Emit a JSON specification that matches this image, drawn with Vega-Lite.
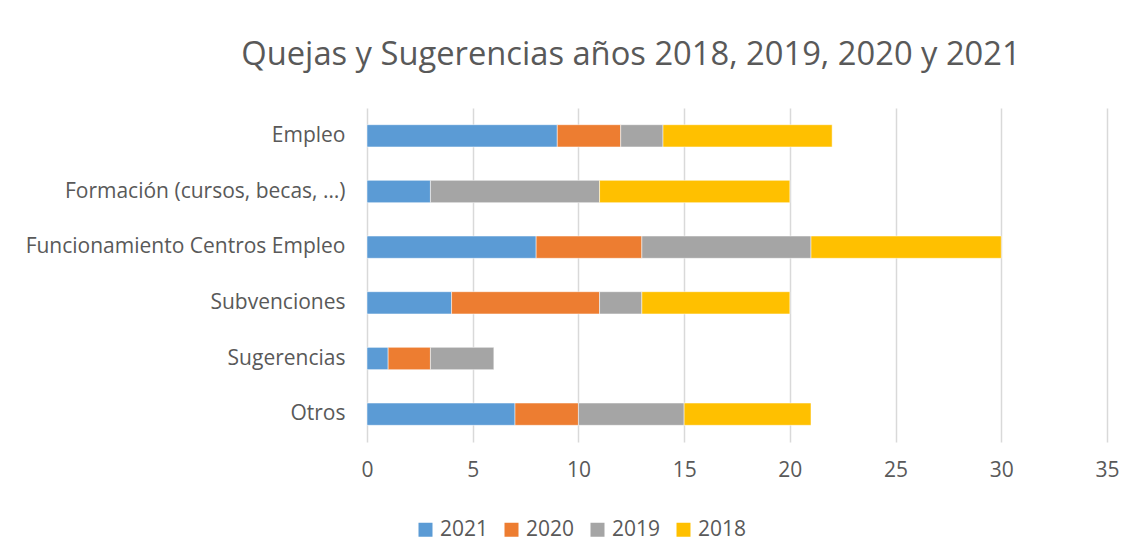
{
  "$schema": "https://vega.github.io/schema/vega-lite/v6.json",
  "width": 740,
  "height": 334,
  "autosize": "none",
  "padding": {"left": 367, "top": 108, "right": 27, "bottom": 115},
  "background": "white",
  "title": {
    "text": "Quejas y Sugerencias años 2018, 2019, 2020 y 2021",
    "font": "Open Sans",
    "fontSize": 32.7,
    "fontWeight": "normal",
    "color": "#595959",
    "anchor": "middle",
    "dx": -106,
    "offset": 36
  },
  "data": {
    "values": [
      {"categoria": "Empleo", "anio": "2021", "valor": 9},
      {"categoria": "Empleo", "anio": "2020", "valor": 3},
      {"categoria": "Empleo", "anio": "2019", "valor": 2},
      {"categoria": "Empleo", "anio": "2018", "valor": 8},
      {"categoria": "Formación (cursos, becas, …)", "anio": "2021", "valor": 3},
      {"categoria": "Formación (cursos, becas, …)", "anio": "2019", "valor": 8},
      {"categoria": "Formación (cursos, becas, …)", "anio": "2018", "valor": 9},
      {"categoria": "Funcionamiento Centros Empleo", "anio": "2021", "valor": 8},
      {"categoria": "Funcionamiento Centros Empleo", "anio": "2020", "valor": 5},
      {"categoria": "Funcionamiento Centros Empleo", "anio": "2019", "valor": 8},
      {"categoria": "Funcionamiento Centros Empleo", "anio": "2018", "valor": 9},
      {"categoria": "Subvenciones", "anio": "2021", "valor": 4},
      {"categoria": "Subvenciones", "anio": "2020", "valor": 7},
      {"categoria": "Subvenciones", "anio": "2019", "valor": 2},
      {"categoria": "Subvenciones", "anio": "2018", "valor": 7},
      {"categoria": "Sugerencias", "anio": "2021", "valor": 1},
      {"categoria": "Sugerencias", "anio": "2020", "valor": 2},
      {"categoria": "Sugerencias", "anio": "2019", "valor": 3},
      {"categoria": "Otros", "anio": "2021", "valor": 7},
      {"categoria": "Otros", "anio": "2020", "valor": 3},
      {"categoria": "Otros", "anio": "2019", "valor": 5},
      {"categoria": "Otros", "anio": "2018", "valor": 6}
    ]
  },
  "mark": {"type": "bar", "stroke": "white", "strokeWidth": 0.5},
  "encoding": {
    "y": {
      "field": "categoria",
      "type": "nominal",
      "sort": ["Empleo", "Formación (cursos, becas, …)", "Funcionamiento Centros Empleo", "Subvenciones", "Sugerencias", "Otros"],
      "title": null,
      "scale": {"paddingInner": 0.6, "paddingOuter": 0.3},
      "axis": {
        "ticks": false,
        "domain": false,
        "labelFont": "Open Sans",
        "labelFontSize": 21,
        "labelColor": "#595959",
        "labelPadding": 22,
        "labelLimit": 500,
        "labelExpr": "datum.label == 'Otros' ? 'Otros\u2002' : datum.label"
      }
    },
    "x": {
      "field": "valor",
      "type": "quantitative",
      "stack": "zero",
      "scale": {"domain": [0, 35], "nice": false},
      "axis": {
        "values": [0, 5, 10, 15, 20, 25, 30, 35],
        "title": null,
        "domain": false,
        "ticks": false,
        "grid": true,
        "gridColor": "#D9D9D9",
        "gridWidth": 1.5,
        "labelFlush": false,
        "labelFont": "Open Sans",
        "labelFontSize": 21,
        "labelColor": "#595959",
        "labelPadding": 17
      }
    },
    "color": {
      "field": "anio",
      "type": "nominal",
      "scale": {
        "domain": ["2021", "2020", "2019", "2018"],
        "range": ["#5B9BD5", "#ED7D31", "#A5A5A5", "#FFC000"]
      },
      "legend": {
        "title": null,
        "orient": "none",
        "direction": "horizontal",
        "legendX": 48,
        "legendY": 411,
        "symbolType": "square",
        "symbolSize": 196,
        "symbolStrokeWidth": 0,
        "symbolOpacity": 1,
        "labelFont": "Open Sans",
        "labelFontSize": 21,
        "labelColor": "#595959",
        "labelOffset": 4,
        "columnPadding": 12
      }
    },
    "order": {"field": "anio", "sort": "descending"}
  },
  "config": {"view": {"stroke": null}}
}
